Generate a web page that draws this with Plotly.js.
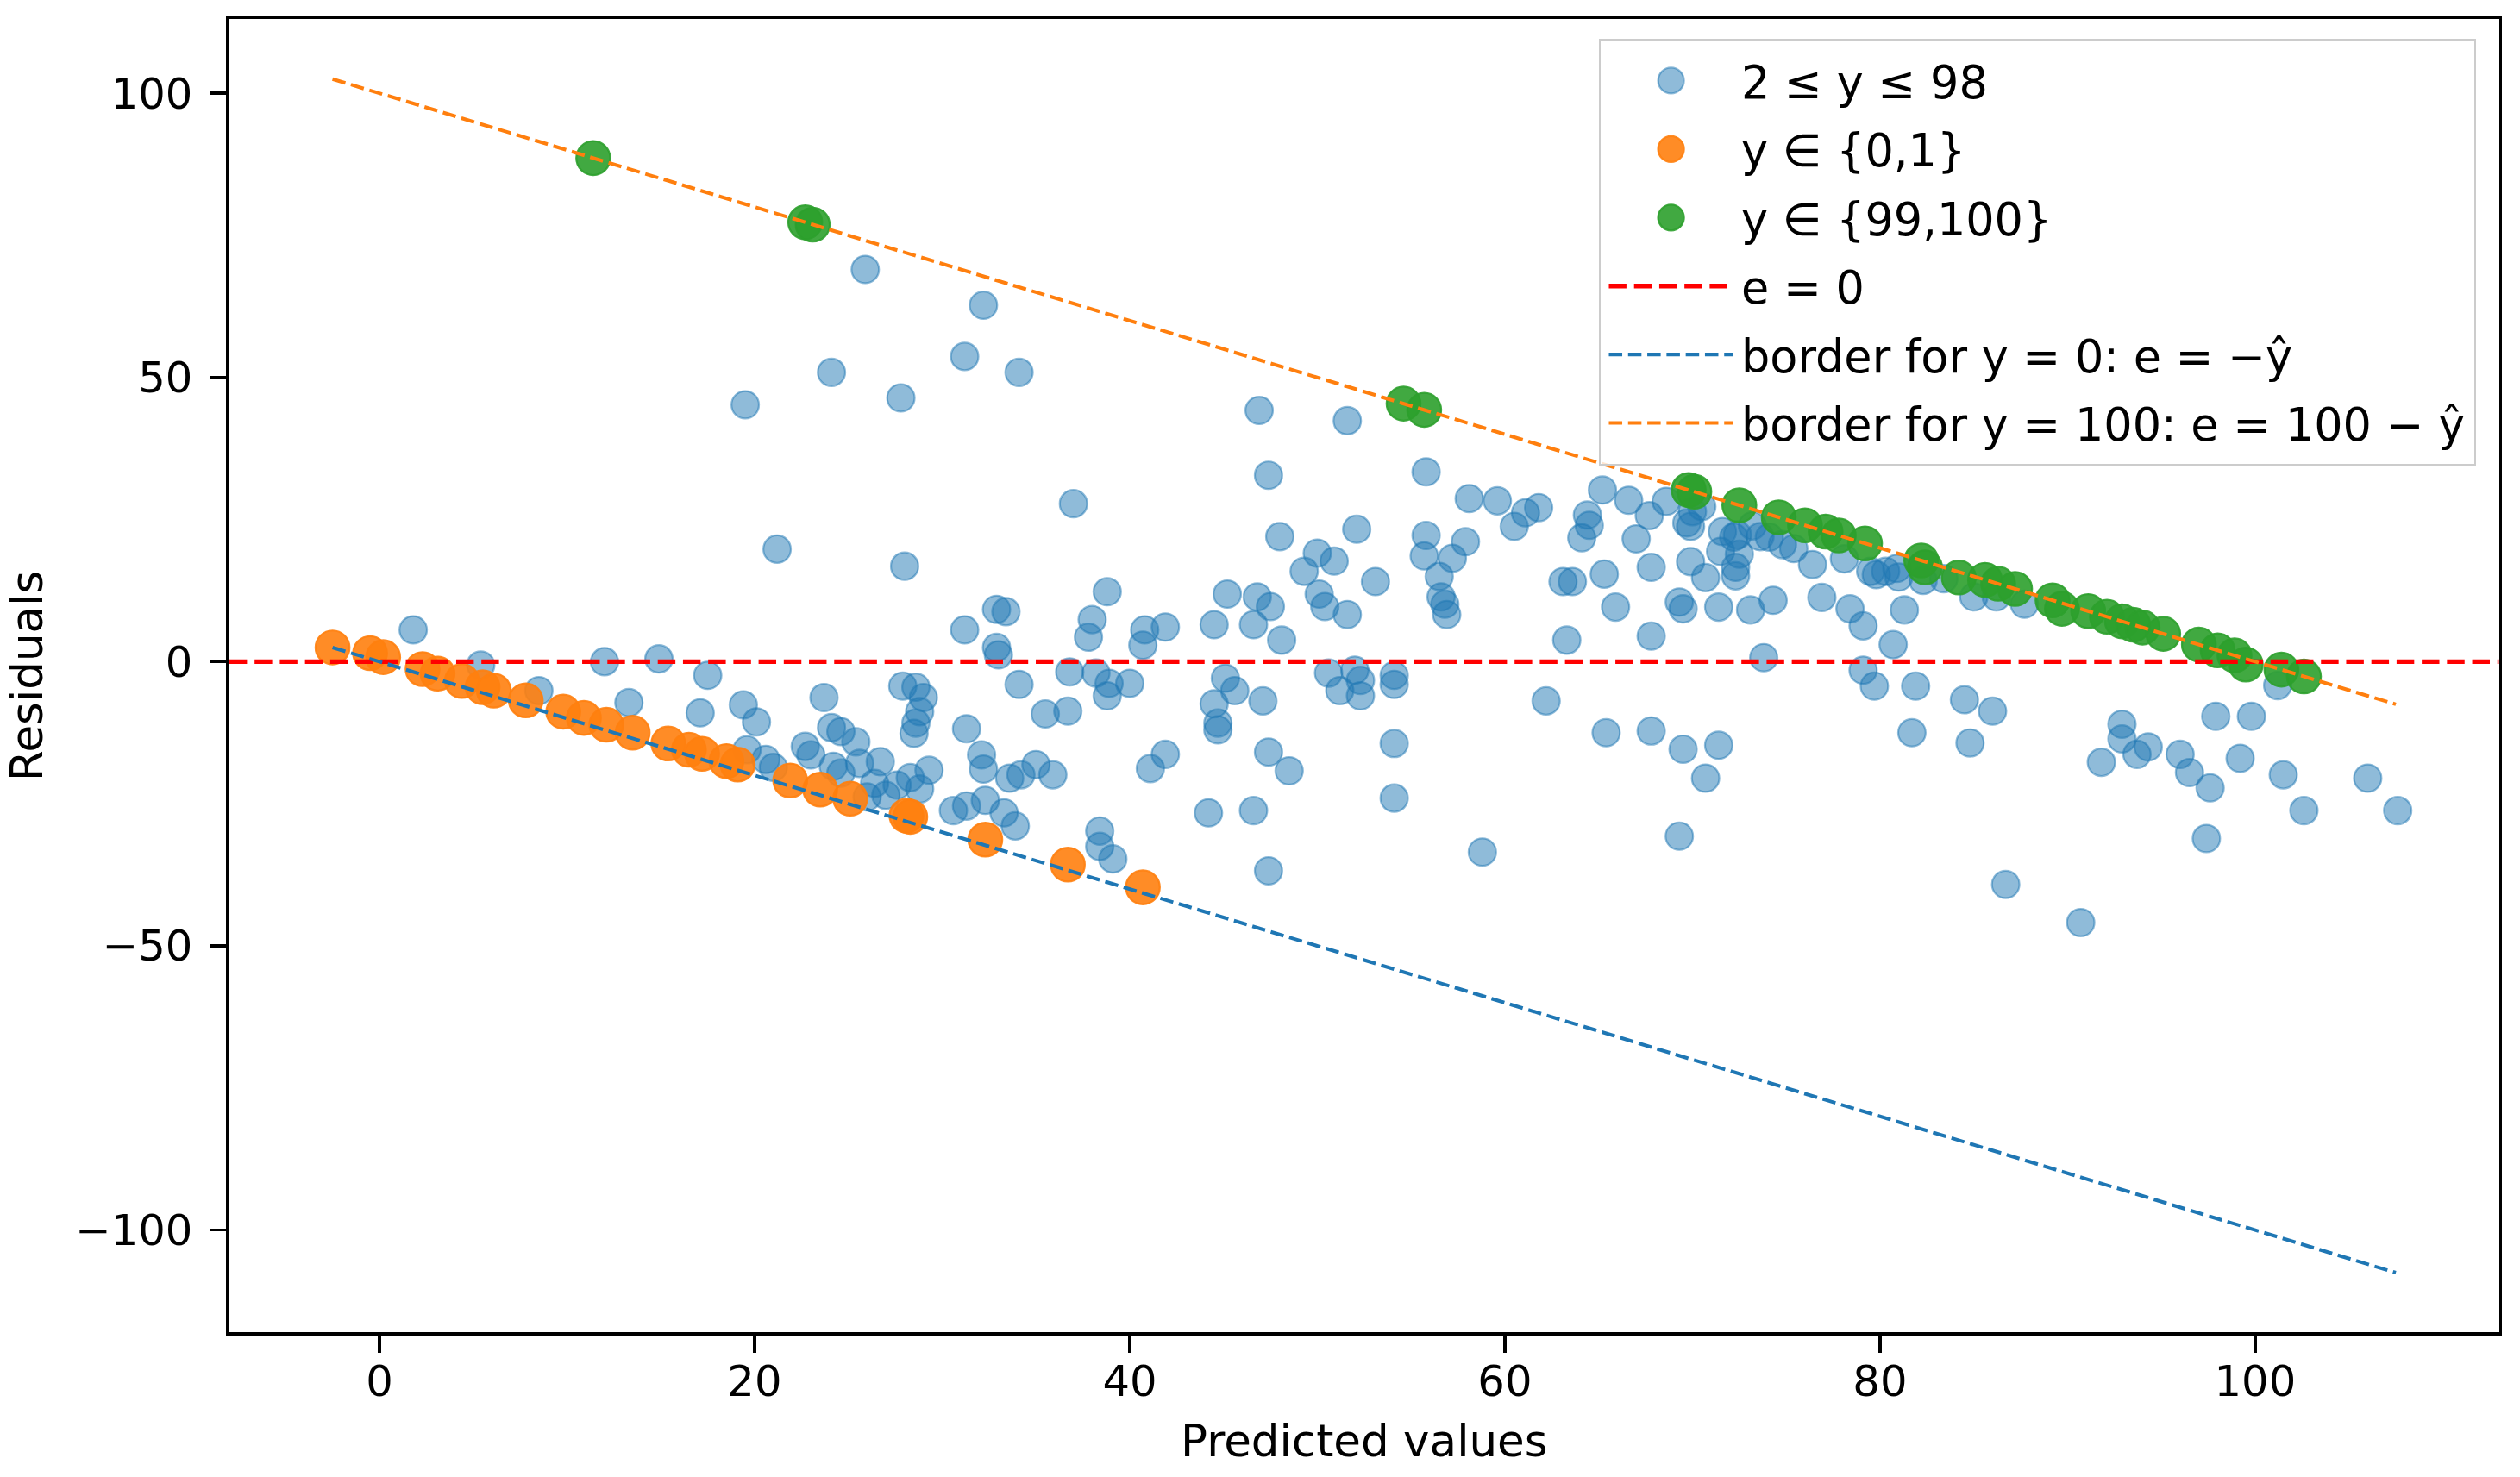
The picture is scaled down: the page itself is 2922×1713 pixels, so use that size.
<!DOCTYPE html>
<html><head><meta charset="utf-8">
<script src="https://cdn.plot.ly/plotly-3.0.1.min.js"></script>
<style>
html,body{margin:0;padding:0;background:#fff;overflow:hidden;}
#wrap{width:2922px;height:1713px;overflow:hidden;position:relative;}
#plot{width:1560px;height:915px;transform:scale(1.873077);transform-origin:0 0;}
</style></head>
<body><div id="wrap"><div id="plot"></div></div>
<script>
// ---- data ----
const predMid = [
25.9,32.2,31.2,24.1,34.1,27.8,19.5,37.0,21.2,28.0,32.9,33.4,31.2,32.9,33.0,1.8,5.4,12.0,14.9,17.5,13.3,17.1,8.5,19.6,20.6,21.0,34.1,35.5,36.7,36.8,33.3,33.9,33.6,34.2,35.0,35.9,
19.4,20.1,23.7,27.9,28.6,29.0,28.8,28.6,28.5,31.3,24.1,24.6,25.4,26.7,22.7,23.0,24.2,25.6,24.6,26.4,27.6,28.3,29.3,28.8,30.6,31.3,32.1,32.2,32.3,26.0,27.0,
46.9,51.6,47.4,55.8,58.1,59.6,60.5,61.1,61.8,64.4,64.5,64.1,63.1,63.6,63.3,62.2,65.4,67.8,69.5,71.4,70.7,69.3,58.8,54.1,54.1,54.1,54.1,52.0,52.3,50.6,51.2,52.3,53.1,52.1,55.8,55.7,57.2,57.9,56.5,56.6,56.8,56.9,48.0,50.0,50.9,49.3,50.1,50.4,51.6,45.2,46.8,47.5,46.6,44.5,48.1,40.8,41.9,40.7,38.8,38.0,37.8,38.2,38.9,38.8,40.0,45.1,45.6,44.5,44.7,44.7,47.1,41.9,41.1,47.4,48.5,44.2,46.6,47.4,38.4,38.4,39.1,
65.2,66.6,67.7,68.6,67.0,69.7,69.9,70.0,70.5,71.6,72.2,72.4,71.5,72.5,72.3,65.3,67.8,69.9,70.7,72.3,73.2,74.1,75.4,76.4,78.1,79.5,80.3,80.9,82.3,65.9,69.3,69.5,71.4,73.1,74.3,76.9,78.4,79.1,80.7,81.3,67.8,73.8,79.1,79.7,81.9,81.7,79.8,81.0,74.8,73.6,
84.5,86.0,84.8,86.7,90.7,91.8,92.9,92.9,94.3,93.7,96.0,96.5,97.6,97.4,97.9,99.8,99.2,101.5,102.6,106.0,107.6,101.2,83.4,85.0,86.2,87.7
];
const residMid = [
69.0,62.7,53.7,50.9,50.9,46.4,45.2,27.8,19.8,16.8,9.2,8.8,5.6,2.5,1.2,5.6,-0.6,0.0,0.5,-2.4,-7.2,-9.0,-5.1,-15.5,-17.2,-18.6,-4.0,-9.2,-8.7,-1.8,-26.6,-28.9,-20.5,-19.9,-18.1,-19.9,
-7.6,-10.6,-6.3,-4.3,-4.5,-6.3,-8.8,-10.8,-12.6,-11.8,-11.6,-12.3,-14.1,-17.6,-14.9,-16.4,-18.4,-17.9,-19.6,-21.4,-21.7,-20.4,-19.1,-22.4,-26.2,-25.4,-16.4,-18.9,-24.4,-23.8,-23.5,
44.2,42.4,32.8,33.4,28.7,28.3,23.8,26.2,27.1,25.8,24.0,21.8,14.1,14.1,3.8,-6.9,-12.5,-12.2,-15.4,-14.7,-20.5,-30.7,-33.5,-14.4,-24.0,-2.4,-4.0,-1.5,-3.3,-2.0,-5.1,-6.0,14.1,23.3,22.2,18.6,18.2,21.1,15.0,11.4,10.1,8.3,22.0,19.1,17.7,15.9,11.9,9.7,8.3,11.9,11.4,9.7,6.5,6.5,3.8,5.6,6.1,2.9,12.3,7.4,4.3,-2.0,-3.8,-6.0,-3.8,-2.9,-5.1,-7.4,-10.8,-12.0,-6.9,-16.3,-18.8,-15.9,-19.2,-26.6,-26.2,-36.8,-29.8,-32.5,-34.7,
30.2,28.4,25.7,28.2,21.6,24.4,23.8,26.4,27.3,22.9,21.9,22.3,19.4,18.9,16.6,15.4,16.6,17.6,14.8,15.1,23.9,21.9,19.9,17.1,18.1,15.9,15.9,16.4,14.3,9.6,10.5,9.3,9.6,9.1,10.8,11.3,9.3,6.3,3.0,9.1,4.5,0.7,-1.5,-4.3,-4.3,-12.5,15.3,14.9,20.6,22.0,
-6.7,-8.7,-14.3,-39.2,-45.9,-17.7,-11.0,-13.6,-15.0,-16.3,-16.3,-19.5,-22.2,-31.1,-9.6,-9.6,-17.0,-19.9,-26.2,-20.5,-26.2,-4.2,14.6,11.4,11.4,10.1
];
const predLow = [-2.5,-0.5,0.2,2.3,3.1,4.4,5.5,6.1,7.8,9.8,10.9,12.1,13.5,15.4,16.5,17.2,18.5,19.1,21.9,23.5,25.1,28.1,28.3,32.3,36.7,40.7];
const residLow = [2.5,1.5,0.8,-1.3,-2.1,-3.4,-4.5,-5.1,-6.8,-8.8,-9.9,-11.1,-12.5,-14.4,-15.5,-16.2,-17.5,-18.1,-20.9,-22.5,-24.1,-27.1,-27.3,-31.3,-35.7,-39.7];
const predHigh = [11.4,22.7,23.1,54.6,55.7,69.8,70.1,72.5,74.6,76.0,77.1,77.8,79.2,82.2,82.4,84.2,85.6,86.3,87.2,89.2,89.7,91.1,92.1,92.9,93.5,94.0,95.1,97.0,98.0,98.9,99.5,101.4,102.6];
const residHigh = [88.6,77.3,76.9,45.4,44.3,30.2,29.9,27.5,25.4,24.0,22.9,22.2,20.8,17.8,16.6,14.8,14.4,13.7,12.8,10.8,9.3,8.9,7.9,7.1,6.5,6.0,4.9,3.0,2.0,1.1,-0.5,-1.4,-2.6];
const borderX = [-2.5, 107.5];          // extent of the predicted values
const border0 = borderX.map(v => -v);   // e = -y_hat
const border100 = borderX.map(v => 100 - v); // e = 100 - y_hat
const xRange = [-8, 113];
const yRange = [-118, 113];
const zeroX = xRange;
const zeroY = [0, 0];
const xTicks = [0, 20, 40, 60, 80, 100];
const yTicks = [-100, -50, 0, 50, 100];
const names = ['2 ≤ y ≤ 98', 'y ∈ {0,1}', 'y ∈ {99,100}', 'e = 0', 'border for y = 0: e = −ŷ', 'border for y = 100: e = 100 − ŷ'];

// ---- styling ----
const FONT = 'DejaVu Sans';
const FS = 26.5;
const FT = 27.5;
const FL = 28;
const BLUE = '#1f77b4', ORANGE = '#ff7f0e';

const traces = [
  {type:'scatter', mode:'markers', x:predMid, y:residMid, name:names[0], legendgroup:'g0',
   marker:{size:17, color:'rgba(31,119,180,0.5)', line:{color:'rgba(31,119,180,0.5)', width:1.2}}, hoverinfo:'skip'},
  {type:'scatter', mode:'markers', x:predLow, y:residLow, name:names[1], legendgroup:'g1',
   marker:{size:21, color:'rgba(255,127,14,0.9)', line:{color:'rgba(255,127,14,0.9)', width:1.2}}, hoverinfo:'skip'},
  {type:'scatter', mode:'markers', x:predHigh, y:residHigh, name:names[2], legendgroup:'g2',
   marker:{size:21, color:'rgba(44,160,44,0.9)', line:{color:'rgba(44,160,44,0.9)', width:1.2}}, hoverinfo:'skip'},
  {type:'scatter', mode:'lines', x:zeroX, y:zeroY, name:names[3], legendgroup:'g3',
   line:{color:'#ff0000', width:2.9, dash:'10.9px,4.7px'}, hoverinfo:'skip'},
  {type:'scatter', mode:'lines', x:borderX, y:border0, name:names[4], legendgroup:'g4',
   line:{color:BLUE, width:2.2, dash:'8.3px,3.6px'}, hoverinfo:'skip'},
  {type:'scatter', mode:'lines', x:borderX, y:border100, name:names[5], legendgroup:'g5',
   line:{color:ORANGE, width:2.2, dash:'8.3px,3.6px'}, hoverinfo:'skip'}
];

const axisCommon = {
  ticks:'outside', ticklen:10.5, tickwidth:1.9, tickcolor:'#000',
  showline:true, mirror:true, linecolor:'#000', linewidth:1.9,
  showgrid:false, zeroline:false, tickfont:{family:FONT, size:FS, color:'#000'}
};

const layout = {
  width:1560, height:915,
  margin:{l:142, r:13, t:12, b:90, pad:0},
  paper_bgcolor:'#ffffff', plot_bgcolor:'#ffffff',
  font:{family:FONT, size:FS, color:'#000'},
  showlegend:true,
  xaxis:Object.assign({}, axisCommon, {
    range:xRange, tickmode:'array', tickvals:xTicks, ticklabelstandoff:-5,
    title:{text:'Predicted values', font:{family:FONT, size:FT, color:'#000'}, standoff:13}
  }),
  yaxis:Object.assign({}, axisCommon, {
    range:yRange, tickmode:'array', tickvals:yTicks, ticklabelstandoff:5,
    title:{text:'Residuals', font:{family:FONT, size:FT, color:'#000'}, standoff:14}
  }),
  legend:{x:0.99, y:0.985, xanchor:'right', yanchor:'top',
    bgcolor:'rgba(255,255,255,0.8)', bordercolor:'#cccccc', borderwidth:1,
    font:{family:FONT, size:FL, color:'#000'}, tracegroupgap:3, itemwidth:77}
};

Plotly.newPlot('plot', traces, layout, {displayModeBar:false, staticPlot:true});
</script>
</body></html>
